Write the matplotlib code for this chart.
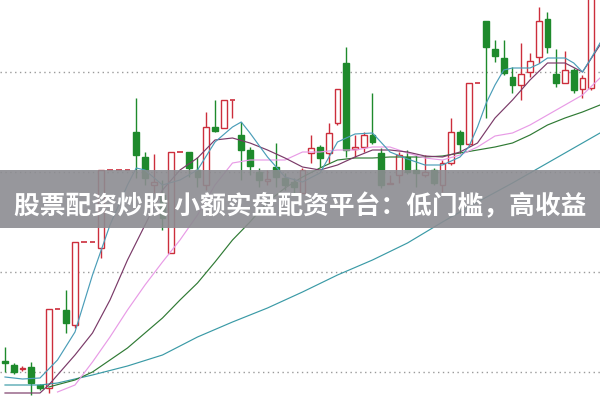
import numpy as np
import matplotlib
matplotlib.use('Agg')
import matplotlib.pyplot as plt
from matplotlib.patches import Rectangle

# candle data (price units), one entry per trading day
opens = [11.1, 10.7, 10.3, 10.5, 8.7, 8.4, 16.3, 16.2, 14.7, 23.0,
         23.0, 22.4, 30.2, 30.2, 30.2, 34.0, 31.5, 28.7, 27.7, 21.9,
         32.0, 32.0, 30.2, 28.7, 34.5, 34.4, 37.2, 33.7, 32.2, 30.0,
         29.1, 30.5, 29.4, 29.0, 27.9, 31.9, 32.5, 31.9, 34.9, 40.9,
         32.3, 32.5, 33.7, 31.9, 28.8, 29.7, 31.5, 30.2, 29.7, 30.2,
         28.7, 30.9, 34.0, 32.8, 38.9, 45.1, 42.3, 41.4, 39.5, 38.7,
         40.0, 41.5, 45.3, 39.8, 38.9, 40.2, 38.3, 38.4]
closes = [10.9, 10.0, 10.4, 8.9, 8.4, 16.3, 16.3, 14.9, 23.0, 23.0,
          23.0, 30.2, 30.2, 30.2, 30.2, 31.7, 29.4, 29.0, 25.4, 32.0,
          32.0, 30.4, 29.5, 34.5, 34.1, 37.2, 37.2, 32.2, 30.6, 29.2,
          29.3, 29.5, 28.7, 28.5, 30.2, 32.4, 31.4, 33.9, 38.3, 32.2,
          32.5, 33.7, 33.0, 28.7, 28.9, 31.7, 30.0, 29.9, 30.0, 28.9,
          30.9, 34.0, 32.8, 38.9, 38.9, 42.5, 41.6, 39.9, 38.7, 39.8,
          41.1, 45.1, 42.5, 38.9, 40.2, 38.2, 39.4, 48.0]
highs = [12.5, 10.9, 10.6, 11.0, 8.8, 16.3, 16.3, 18.2, 23.0, 23.0,
         23.0, 30.2, 30.2, 30.2, 30.2, 37.4, 32.0, 31.8, 29.2, 32.0,
         32.0, 32.0, 31.5, 36.0, 37.2, 37.2, 37.2, 35.0, 32.5, 30.4,
         30.2, 32.9, 29.9, 29.4, 30.4, 33.7, 32.7, 34.9, 38.3, 42.5,
         33.7, 34.0, 37.9, 32.4, 29.7, 32.0, 32.2, 31.7, 31.7, 30.4,
         31.2, 35.4, 34.2, 38.9, 38.9, 45.1, 43.2, 43.2, 40.5, 42.9,
         41.9, 46.5, 46.0, 42.3, 42.1, 40.4, 39.7, 48.5]
lows = [10.0, 9.8, 10.1, 7.7, 8.2, 7.9, 16.3, 13.9, 14.4, 23.0,
        23.0, 21.4, 30.2, 30.2, 30.2, 29.4, 28.7, 27.9, 24.2, 21.9,
        32.0, 29.5, 28.5, 28.2, 34.0, 34.4, 35.4, 29.2, 29.7, 28.5,
        28.7, 28.5, 28.2, 27.9, 27.9, 30.9, 30.5, 30.9, 34.7, 31.5,
        31.5, 32.0, 32.8, 28.4, 28.8, 28.9, 29.8, 28.5, 29.5, 28.7,
        28.0, 30.7, 31.9, 32.6, 38.9, 35.4, 41.0, 39.7, 37.9, 37.2,
        39.5, 40.9, 41.9, 38.5, 38.9, 37.9, 37.4, 38.2]

ma5_idx = [0, 2, 4, 6, 8, 10, 12, 14, 15, 16, 18, 20, 22, 24, 26, 27, 28, 30,
           32, 34, 36, 38, 40, 42, 44, 46, 48, 50, 52, 53, 54, 55, 56, 57, 58,
           60, 61, 62, 64, 65, 66, 67, 68]
ma5 = [9.5, 9.3, 9.4, 11.2, 14.0, 19.7, 24.7, 28.7, 30.4, 30.2, 28.7, 29.2,
       30.2, 33.0, 34.5, 35.0, 33.9, 31.5, 29.5, 29.0, 29.9, 33.0, 33.8, 33.9,
       32.0, 31.3, 30.7, 30.7, 31.5, 32.5, 34.5, 36.9, 38.7, 40.2, 40.4, 40.4,
       40.8, 41.4, 41.4, 40.9, 40.0, 41.4, 42.9]
ma10_idx = [0, 4, 5, 8, 10, 12, 14, 16, 18, 20, 22, 24, 26, 28, 30, 32, 34,
            36, 38, 40, 42, 44, 46, 48, 50, 52, 54, 56, 58, 60, 62, 64, 66, 68]
ma10 = [7.9, 7.9, 8.7, 11.7, 13.9, 17.2, 21.2, 24.7, 28.2, 30.2, 31.4, 33.2,
        33.4, 32.9, 32.2, 31.4, 30.5, 30.2, 30.7, 31.5, 32.2, 32.2, 32.0,
        31.6, 31.5, 32.0, 32.9, 35.4, 37.2, 39.2, 40.9, 40.9, 40.0, 42.7]
ma20_idx = [6, 8, 10, 12, 14, 16, 18, 20, 22, 24, 26, 28, 30, 32, 34, 36, 38,
            40, 42, 44, 46, 48, 50, 52, 54, 56, 58, 60, 62, 64, 66, 68]
ma20 = [8.0, 8.7, 11.0, 13.5, 16.2, 18.7, 21.0, 23.2, 25.7, 28.7, 30.9, 31.2,
        31.2, 31.2, 32.0, 32.0, 32.2, 32.2, 32.5, 32.5, 31.9, 31.4, 31.2,
        31.7, 32.5, 33.6, 33.9, 34.7, 35.7, 36.7, 37.7, 39.4]
ma60_idx = [5, 8, 10, 12, 14, 16, 18, 20, 22, 24, 26, 28, 30, 32, 34, 36, 38,
            40, 42, 44, 46, 48, 50, 52, 54, 56, 58, 60, 62, 64, 66, 68]
ma60 = [8.5, 9.2, 10.0, 11.2, 12.4, 13.9, 15.4, 17.2, 18.9, 21.0, 23.2, 25.0,
        27.0, 28.4, 29.5, 30.4, 31.2, 31.4, 31.4, 31.5, 31.5, 31.5, 31.6,
        31.9, 32.2, 32.5, 32.9, 33.7, 34.7, 35.4, 36.0, 36.7]
ma120_idx = [0, 4, 6, 10, 14, 18, 22, 26, 30, 34, 38, 42, 46, 50, 54, 58, 62,
             66, 68]
ma120 = [8.7, 8.7, 8.9, 9.7, 10.6, 11.7, 13.5, 15.0, 16.4, 18.0, 19.7, 21.2,
         22.9, 25.0, 27.0, 28.9, 30.9, 32.9, 33.9]

grid_levels = [10, 20, 30, 40]
banner_text = '股票配资炒股 小额实盘配资平台：低门槛，高收益'

up_col = '#cc2e3c'
down_col = '#1e8a2c'
w = 0.68

fig = plt.figure(figsize=(6, 4), dpi=100)
ax = fig.add_axes([0, 0, 1, 1])
ax.set_xlim(-0.57, 68)
ax.set_ylim(7.2, 47.2)
ax.axis('off')

for g in grid_levels:
    ax.axhline(g, color='#9a9a9a', lw=1, linestyle=(0, (1, 2.5)), zorder=1)

for i in range(len(opens)):
    o, c, h, l = opens[i], closes[i], highs[i], lows[i]
    if o == c == h == l:
        ax.hlines(c, i - w / 2, i + w / 2, color=up_col, lw=1.2, zorder=3)
        continue
    col = up_col if c >= o else down_col
    ax.vlines(i, l, h, color=col, lw=1, zorder=2)
    if abs(c - o) < 0.05:
        ax.hlines(c, i - w / 2, i + w / 2, color=col, lw=1.2, zorder=3)
    elif c > o:
        ax.add_patch(Rectangle((i - w / 2, o), w, c - o, facecolor='white',
                               edgecolor=up_col, lw=1, zorder=3))
    else:
        ax.add_patch(Rectangle((i - w / 2, c), w, o - c, facecolor=down_col,
                               edgecolor=down_col, lw=1, zorder=3))

ax.plot(ma120_idx, ma120, color='#3a9aa6', lw=0.85, zorder=4)
ax.plot(ma60_idx, ma60, color='#2f7a34', lw=0.85, zorder=4)
ax.plot(ma20_idx, ma20, color='#e89be6', lw=0.85, zorder=4)
ax.plot(ma10_idx, ma10, color='#7a3a68', lw=0.85, zorder=4)
ax.plot(ma5_idx, ma5, color='#4a9db8', lw=0.85, zorder=4)

ax.add_patch(Rectangle((0, 0.43), 1, 0.145, transform=ax.transAxes,
                       facecolor='#8c8c91', edgecolor='none', alpha=0.9,
                       zorder=10))
ax.text(0.5, 0.483, banner_text, transform=ax.transAxes, ha='center',
        va='center', color='white', fontsize=18.5, fontweight='bold',
        family=['Noto Sans CJK SC', 'DejaVu Sans'], zorder=11)

fig.savefig('out.png', dpi=100)
